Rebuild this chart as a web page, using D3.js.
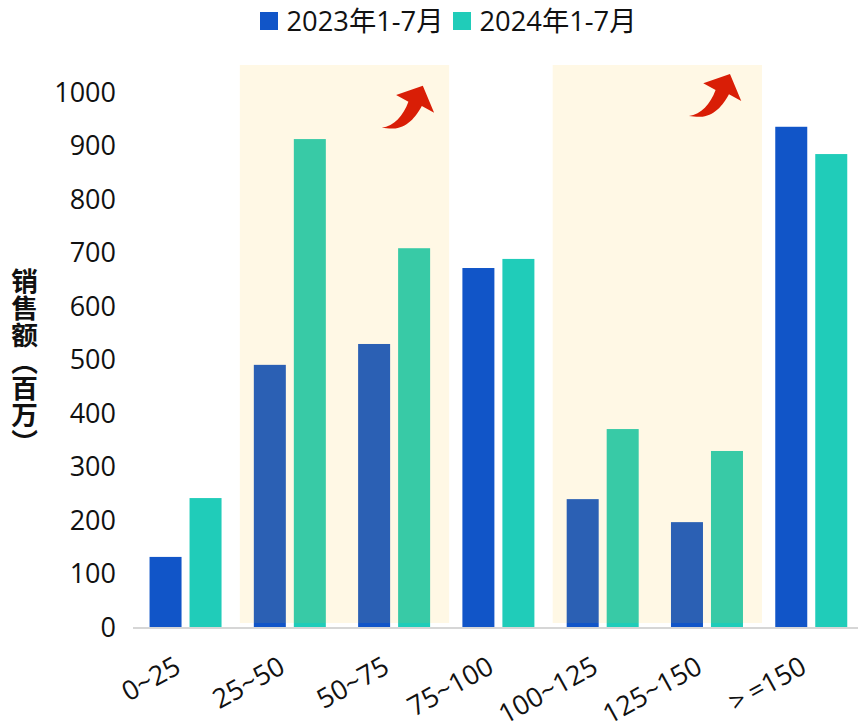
<!DOCTYPE html>
<html>
<head>
<meta charset="utf-8">
<script src="https://cdn.jsdelivr.net/npm/d3@7/dist/d3.min.js"></script>
<style>
html,body{margin:0;padding:0;background:#fff;}
svg{display:block;}
text{font-family:"Open Sans","Noto Sans CJK SC",sans-serif;fill:#111;}
</style>
</head>
<body>
<svg id="chart" width="858" height="725"></svg>
<script>
const categories = ["0~25","25~50","50~75","75~100","100~125","125~150",">=150"];
const sales2023 = [131,490,529,671,239,196,935];
const sales2024 = [241,912,708,688,370,329,884];
const seriesNames = ["2023年1-7月","2024年1-7月"];
const seriesColors = ["#1155c8","#20ccb9"];
const yTicks = [0,100,200,300,400,500,600,700,800,900,1000];
// Ranges that get a shaded band and a rising arrow
const highlightSpans = [["25~50","50~75"],["100~125","125~150"]];

const width = 858, height = 725;
const svg = d3.select("#chart");

const x = d3.scaleBand().domain(categories).range([133.4, 863.4]);
const y = d3.scaleLinear().domain([0,1000]).range([627,92]);
const barW = 32, barGap = 8;

// Bars for both series
[sales2023, sales2024].forEach((vals,i)=>{
  svg.append("g").selectAll("rect").data(vals).join("rect")
    .attr("x",(d,k)=>x(categories[k]) + x.bandwidth()/2 + (i===0 ? -barW-barGap/2 : barGap/2))
    .attr("y",d=>y(d))
    .attr("width",barW)
    .attr("height",d=>y(0)-y(d))
    .attr("fill",seriesColors[i]);
});

// Baseline
svg.append("line").attr("x1",133).attr("x2",width)
  .attr("y1",628).attr("y2",628).attr("stroke","#d6d6d6").attr("stroke-width",2);

// Shaded bands laid over the bars, each with a curved arrow in its upper right
highlightSpans.forEach((s,i)=>{
  const x0 = x(s[0]) + x.bandwidth()/2 - barW - barGap/2 - 14;
  const x1 = x(s[1]) + x.bandwidth()/2 + barW + barGap/2 + 19;
  svg.append("rect").attr("x",x0).attr("y",65)
    .attr("width",x1-x0).attr("height",558)
    .attr("fill","#ffbe12").attr("fill-opacity",0.11);
  const ax = x1 - (i===0 ? 15 : 20.7);
  const ay = 65 + (i===0 ? 0 : -11.7);
  svg.append("path")
    .attr("transform",`translate(${ax},${ay})`)
    .attr("d","M-11.3,20.7 L0,47.7 L-12.3,41 C-18,52 -28,64 -42,63.5 C-46,63.3 -49,63 -52.3,62.7 C-40,61 -31,51 -25.7,36.7 L-38,30 Z")
    .attr("fill","#d91e06");
});

// Y axis labels
svg.append("g").selectAll("text").data(yTicks).join("text")
  .attr("x",116).attr("y",d=>y(d))
  .attr("dy","0.36em").attr("text-anchor","end")
  .attr("font-size",27).text(d=>d);

// X axis labels, rotated; the comparison sign gets a little extra air
svg.append("g").selectAll("text").data(categories).join("text")
  .attr("text-anchor","end").attr("font-size",27)
  .attr("transform",d=>`translate(${x(d)+x.bandwidth()/2-3},672) rotate(-29)`)
  .each(function(d){
    const t = d3.select(this);
    if (d.startsWith(">=")) {
      t.text(">");
      t.append("tspan").attr("dx",6).text(d.slice(1));
    } else {
      t.text(d);
    }
  });

// Y axis title, set vertically
svg.append("text")
  .attr("x",24.5).attr("y",268)
  .style("writing-mode","vertical-rl")
  .style("font-family","'Noto Sans CJK SC'")
  .style("font-size","26.7px").style("font-weight",700)
  .text("销售额（百万）");

// Legend
const legendX = [260,453];
seriesNames.forEach((n,i)=>{
  svg.append("rect").attr("x",legendX[i]).attr("y",12).attr("width",18).attr("height",18).attr("fill",seriesColors[i]);
  svg.append("text").attr("x",legendX[i]+26.5).attr("y",31)
    .attr("font-size",27.3).text(n);
});
</script>
</body>
</html>
